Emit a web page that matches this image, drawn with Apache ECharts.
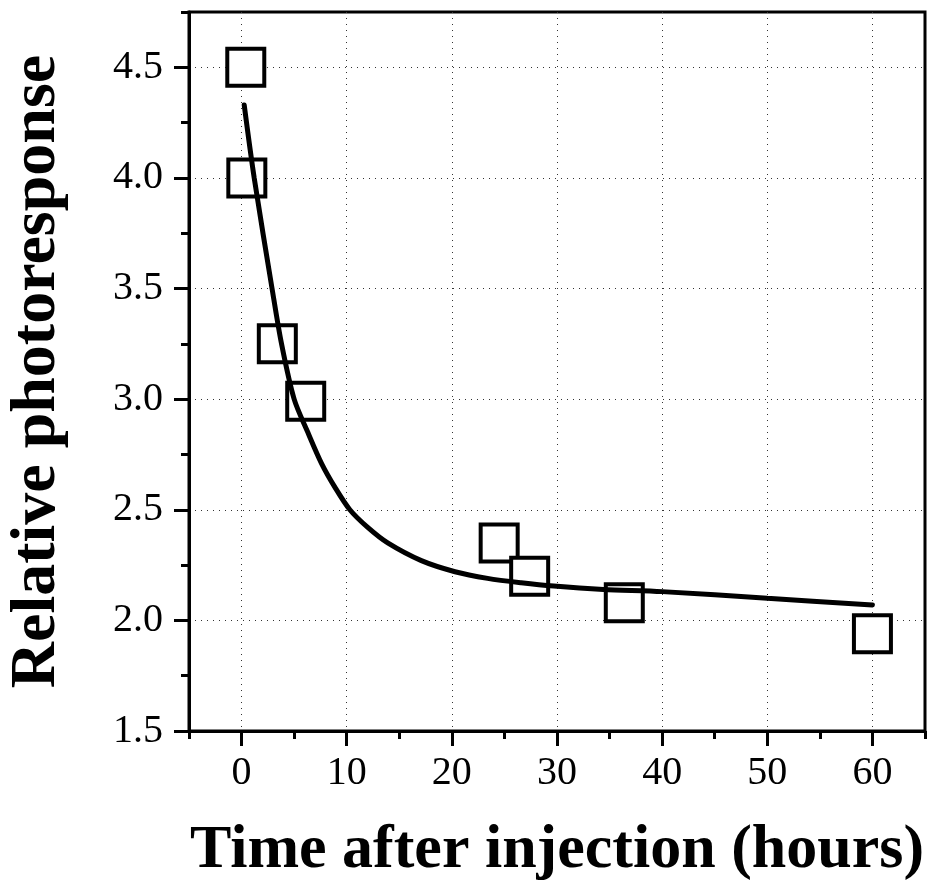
<!DOCTYPE html>
<html>
<head>
<meta charset="utf-8">
<script src="https://cdn.jsdelivr.net/npm/echarts@6/dist/echarts.min.js"></script>
<style>
html,body{margin:0;padding:0;background:#fff;}
#chart{width:932px;height:888px;}
</style>
</head>
<body>
<div id="chart"></div>
<script>
// Measured data (squares)
const timeHours = [0.4, 0.5, 3.4, 6.1, 24.5, 27.4, 36.4, 60];
const photoresponse = [4.5, 4.0, 3.25, 2.99, 2.35, 2.2, 2.08, 1.94];

// Fitted curve
const fitTime = [0.25, 1.2, 2.9, 3.8, 5.0, 6.3, 7.6, 8.9, 10.3, 12.0, 13.9, 17.1, 20.3, 23.4, 26.6, 29.7, 34.4, 40, 50, 60];
const fitResponse = [4.33, 4.0, 3.5, 3.25, 3.0, 2.85, 2.71, 2.6, 2.5, 2.42, 2.35, 2.27, 2.22, 2.19, 2.17, 2.155, 2.14, 2.13, 2.10, 2.07];

// Tick labels
const xMajorTicks = [0, 10, 20, 30, 40, 50, 60];
const yMajorTicks = [1.5, 2.0, 2.5, 3.0, 3.5, 4.0, 4.5];

const serif = 'Liberation Serif';
const chart = echarts.init(document.getElementById('chart'), null, {renderer: 'canvas'});

const dotted = {show: true, lineStyle: {color: '#333', width: 1, type: [1, 5]}};

const option = {
  animation: false,
  backgroundColor: '#fff',
  grid: {left: 189, right: 7, top: 12, bottom: 157, containLabel: false, outerBoundsMode: 'none',
    show: true, borderColor: '#000', borderWidth: 3, backgroundColor: 'transparent'},
  xAxis: [
    {
      type: 'value', min: -5, max: 65, interval: 5, position: 'bottom',
      name: 'Time after injection (hours)', nameLocation: 'middle', nameGap: 89,
      nameTextStyle: {fontFamily: serif, fontWeight: 'bold', fontSize: 62, color: '#000'},
      axisLine: {show: true, onZero: false, lineStyle: {color: '#000', width: 3}},
      axisTick: {show: true, customValues: xMajorTicks, length: 15, lineStyle: {color: '#000', width: 3}},
      axisLabel: {show: true, customValues: xMajorTicks, margin: 22, fontFamily: serif, fontSize: 40, color: '#000'},
      splitLine: dotted
    },
    {
      type: 'value', min: -5, max: 65, interval: 5, position: 'bottom',
      axisLine: {show: false, onZero: false},
      axisTick: {show: true, length: 8, lineStyle: {color: '#000', width: 3}},
      axisLabel: {show: false},
      splitLine: {show: false}
    }
  ],
  yAxis: [
    {
      type: 'value', min: 1.5, max: 4.75, interval: 0.25, position: 'left',
      name: 'Relative photoresponse', nameLocation: 'middle', nameGap: 120, nameRotate: 90,
      nameTextStyle: {fontFamily: serif, fontWeight: 'bold', fontSize: 64, color: '#000'},
      axisLine: {show: true, onZero: false, lineStyle: {color: '#000', width: 3}},
      axisTick: {show: true, customValues: yMajorTicks, length: 15, lineStyle: {color: '#000', width: 3}},
      axisLabel: {show: true, customValues: yMajorTicks, margin: 26, fontFamily: serif, fontSize: 40, color: '#000',
        formatter: v => v.toFixed(1)},
      splitLine: dotted
    },
    {
      type: 'value', min: 1.5, max: 4.75, interval: 0.25, position: 'left',
      axisLine: {show: false, onZero: false},
      axisTick: {show: true, length: 8, lineStyle: {color: '#000', width: 3}},
      axisLabel: {show: false},
      splitLine: {show: false}
    }
  ],
  series: [
    {
      type: 'scatter', xAxisIndex: 0, yAxisIndex: 0,
      data: timeHours.map((t, i) => [t, photoresponse[i]]),
      symbol: 'rect', symbolSize: 37,
      itemStyle: {color: '#fff', borderColor: '#000', borderWidth: 4, opacity: 1},
      emphasis: {disabled: true},
      z: 2
    },
    {
      type: 'line', xAxisIndex: 0, yAxisIndex: 0,
      data: fitTime.map((t, i) => [t, fitResponse[i]]),
      smooth: 0.3, showSymbol: false, symbol: 'none',
      lineStyle: {color: '#000', width: 5, cap: 'round'},
      emphasis: {disabled: true},
      z: 3
    }
  ]
};
chart.setOption(option);
</script>
</body>
</html>
